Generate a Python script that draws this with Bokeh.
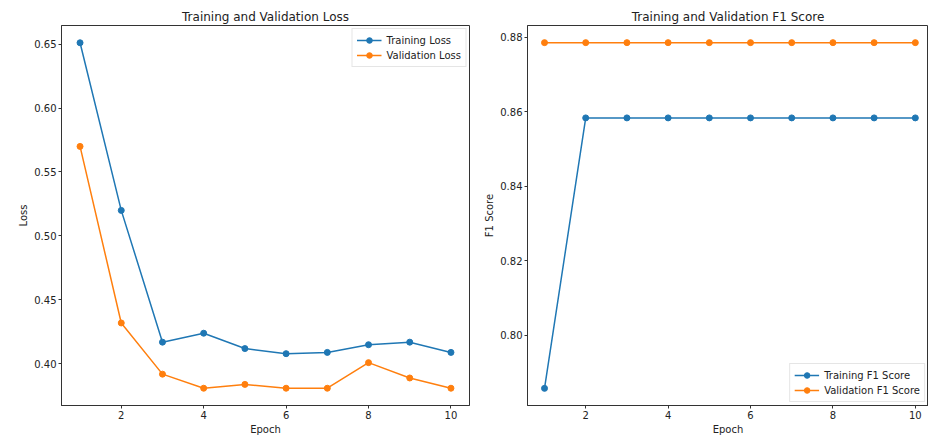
from bokeh.plotting import figure
from bokeh.layouts import row
from bokeh.models import Range1d, FixedTicker, NumeralTickFormatter
from bokeh.embed import file_html
from bokeh.resources import INLINE

epochs = [1, 2, 3, 4, 5, 6, 7, 8, 9, 10]
train_loss = [0.651, 0.520, 0.417, 0.424, 0.412, 0.408, 0.409, 0.415, 0.417, 0.409]
val_loss = [0.570, 0.432, 0.392, 0.381, 0.384, 0.381, 0.381, 0.401, 0.389, 0.381]
train_f1 = [0.7858, 0.8584, 0.8584, 0.8584, 0.8584, 0.8584, 0.8584, 0.8584, 0.8584, 0.8584]
val_f1 = [0.8786, 0.8786, 0.8786, 0.8786, 0.8786, 0.8786, 0.8786, 0.8786, 0.8786, 0.8786]
x_ticks = [2, 4, 6, 8, 10]
loss_ticks = [0.40, 0.45, 0.50, 0.55, 0.60, 0.65]
f1_ticks = [0.80, 0.82, 0.84, 0.86, 0.88]

BLUE = "#1f77b4"
ORANGE = "#ff7f0e"
FONT = "DejaVu Sans"


def style(p, xlabel, ylabel, yticks, fmt):
    p.title.text_font = FONT
    p.title.text_font_size = "12px"
    p.title.text_font_style = "normal"
    p.title.align = "center"
    p.title.text_color = "#222222"
    p.title.standoff = 3
    p.xgrid.visible = False
    p.ygrid.visible = False
    p.outline_line_color = "#333333"
    p.outline_line_width = 1
    p.outline_line_alpha = 1
    p.xaxis.ticker = FixedTicker(ticks=x_ticks)
    p.yaxis.ticker = FixedTicker(ticks=yticks)
    p.yaxis.formatter = NumeralTickFormatter(format=fmt)
    p.xaxis.axis_label = xlabel
    p.yaxis.axis_label = ylabel
    for ax in (p.xaxis, p.yaxis):
        ax.axis_line_color = "#333333"
        ax.major_tick_line_color = "#333333"
        ax.minor_tick_line_color = None
        ax.major_tick_in = 0
        ax.major_tick_out = 3
        ax.major_label_text_font = FONT
        ax.major_label_text_font_size = "10px"
        ax.major_label_text_color = "#222222"
        ax.major_label_standoff = 2
        ax.axis_label_text_font = FONT
        ax.axis_label_text_font_size = "10px"
        ax.axis_label_text_font_style = "normal"
        ax.axis_label_text_color = "#222222"
        ax.axis_label_standoff = 2
    p.legend.label_text_font = FONT
    p.legend.label_text_font_size = "10px"
    p.legend.label_text_color = "#222222"
    p.legend.label_height = 14
    p.legend.glyph_height = 14
    p.legend.glyph_width = 25
    p.legend.spacing = 1
    p.legend.padding = 4
    p.legend.margin = 3
    p.legend.border_line_color = "#cccccc"
    p.legend.background_fill_alpha = 0.8


p1 = figure(width=474, height=438, output_backend="svg", toolbar_location=None,
            title="Training and Validation Loss",
            x_range=Range1d(0.55, 10.45), y_range=Range1d(0.3675, 0.6645),
            min_border_left=61, min_border_right=5, min_border_top=25, min_border_bottom=33)
p1.line(epochs, train_loss, color=BLUE, line_width=1.5, legend_label="Training Loss")
p1.scatter(epochs, train_loss, color=BLUE, size=6, legend_label="Training Loss")
p1.line(epochs, val_loss, color=ORANGE, line_width=1.5, legend_label="Validation Loss")
p1.scatter(epochs, val_loss, color=ORANGE, size=6, legend_label="Validation Loss")
p1.legend.location = "top_right"
style(p1, "Epoch", "Loss", loss_ticks, "0.00")

p2 = figure(width=454, height=438, output_backend="svg", toolbar_location=None,
            title="Training and Validation F1 Score",
            x_range=Range1d(0.587, 10.32), y_range=Range1d(0.7812, 0.8832),
            min_border_left=53, min_border_right=0, min_border_top=25, min_border_bottom=33)
p2.line(epochs, train_f1, color=BLUE, line_width=1.5, legend_label="Training F1 Score")
p2.scatter(epochs, train_f1, color=BLUE, size=6, legend_label="Training F1 Score")
p2.line(epochs, val_f1, color=ORANGE, line_width=1.5, legend_label="Validation F1 Score")
p2.scatter(epochs, val_f1, color=ORANGE, size=6, legend_label="Validation F1 Score")
p2.legend.location = "bottom_right"
style(p2, "Epoch", "F1 Score", f1_ticks, "0.00")

layout = row(p1, p2)
open("out.html", "w").write(file_html(layout, INLINE))
